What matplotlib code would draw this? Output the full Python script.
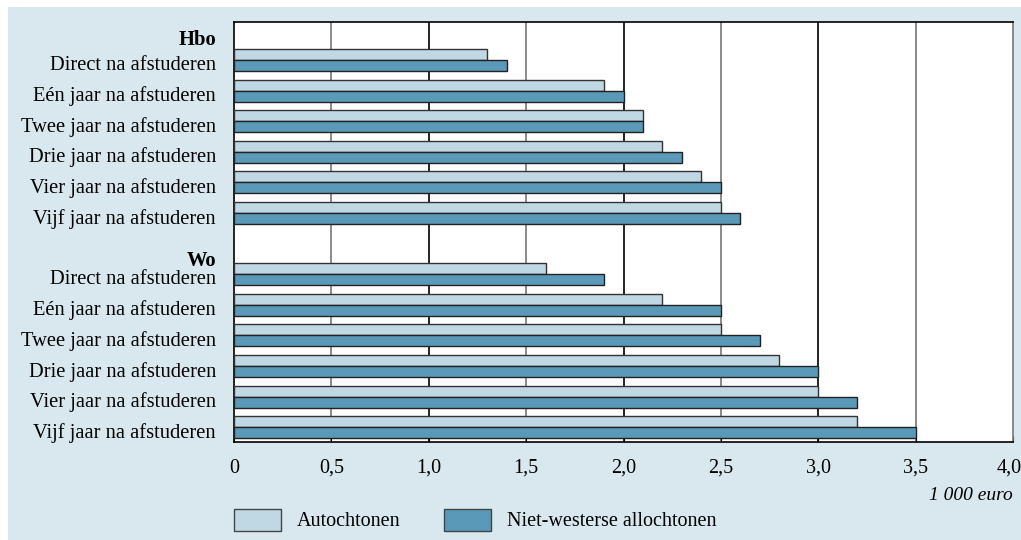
import numpy as np
import matplotlib
matplotlib.use('Agg')
from matplotlib import pyplot as plt
from matplotlib.patches import Rectangle
from matplotlib.transforms import ScaledTranslation

rows = ['Direct na afstuderen', 'Eén jaar na afstuderen', 'Twee jaar na afstuderen',
        'Drie jaar na afstuderen', 'Vier jaar na afstuderen', 'Vijf jaar na afstuderen']
groups = ['Hbo', 'Wo']
hbo_auto = [1.3, 1.9, 2.1, 2.2, 2.4, 2.5]
hbo_nw = [1.4, 2.0, 2.1, 2.3, 2.5, 2.6]
wo_auto = [1.6, 2.2, 2.5, 2.8, 3.0, 3.2]
wo_nw = [1.9, 2.5, 2.7, 3.0, 3.2, 3.5]
xticks = [0, 0.5, 1.0, 1.5, 2.0, 2.5, 3.0, 3.5, 4.0]
xticklabels = ['0', '0,5', '1,0', '1,5', '2,0', '2,5', '3,0', '3,5', '4,0']
series = ['Autochtonen', 'Niet-westerse allochtonen']

light = '#c0d8e4'
dark = '#5a9ab8'
panel = '#d9e7ee'
plt.rcParams['font.family'] = ['Liberation Serif', 'DejaVu Serif']

W, H = 1021, 540
fig = plt.figure(figsize=(W / 100, H / 100), dpi=100)
fig.patch.set_facecolor('white')
fig.patches.append(Rectangle((8 / W, 0), (W - 8) / W, (H - 7) / H,
                             transform=fig.transFigure, facecolor=panel,
                             edgecolor='none', zorder=-10))

ax = fig.add_axes([234 / W, (H - 442) / H, (1013 - 234) / W, (442 - 22) / H])
ax.set_facecolor('white')

pos_hbo = np.arange(6)
pos_wo = np.arange(6) + 7
h = 0.36
for pos, a, n in [(pos_hbo, hbo_auto, hbo_nw), (pos_wo, wo_auto, wo_nw)]:
    ax.barh(pos - h / 2, a, height=h, color=light, edgecolor='#333333', linewidth=1.0, zorder=3)
    ax.barh(pos + h / 2, n, height=h, color=dark, edgecolor='#222222', linewidth=1.0, zorder=3)

for x in xticks[1:-1]:
    c = 'black' if float(x).is_integer() else '#777777'
    ax.axvline(x, color=c, lw=1.2, zorder=1)

ax.set_xlim(0, 4.0)
ax.set_ylim(12.48, -1.24)

header_pos = [-0.72, 6.5]
ypos = list(header_pos[:1]) + list(pos_hbo + 0.1) + list(header_pos[1:]) + list(pos_wo + 0.1)
ylabels = [groups[0]] + rows + [groups[1]] + rows
ax.set_yticks(ypos)
ax.set_yticklabels(ylabels, fontsize=14.8)
for t in ax.get_yticklabels():
    if t.get_text() in groups:
        t.set_fontweight('bold')
ax.tick_params(axis='y', length=0, pad=13)

ax.set_xticks(xticks)
ax.set_xticklabels(xticklabels, fontsize=14.5)
ax.tick_params(axis='x', direction='in', length=4, pad=12, color='black')
last = ax.get_xticklabels()[-1]
last.set_transform(last.get_transform() + ScaledTranslation(-4 / 100, 0, fig.dpi_scale_trans))

for s in ['top', 'bottom', 'left']:
    ax.spines[s].set_color('black')
    ax.spines[s].set_linewidth(1.2)
ax.spines['right'].set_color('#777777')
ax.spines['right'].set_linewidth(1.2)

fig.text(1013 / W, 1 - 496 / H, '1 000 euro', ha='right', va='center',
         fontsize=14, style='italic')

# legend
for x0, col, lab in [(234, light, series[0]), (444, dark, series[1])]:
    fig.patches.append(Rectangle((x0 / W, 1 - 531 / H), 47 / W, 22 / H,
                                 transform=fig.transFigure, facecolor=col,
                                 edgecolor='#444444', linewidth=1.0))
    fig.text((x0 + 63) / W, 1 - 522 / H, lab, ha='left', va='center', fontsize=14.5)

fig.savefig('out.png', dpi=100, facecolor=fig.get_facecolor())
